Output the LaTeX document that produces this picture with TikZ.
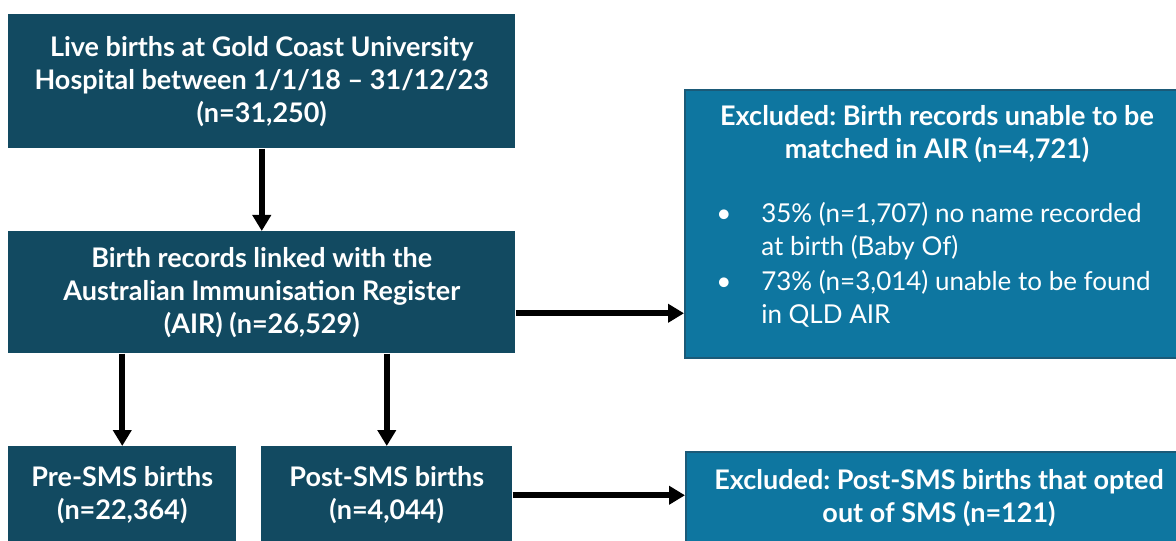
\documentclass[tikz,border=0pt]{standalone}
\usepackage{fontspec}
\setmainfont{Lato}
\usetikzlibrary{arrows.meta}
\newlength\pxu
\setlength\pxu{0.75pt}
\definecolor{darkfill}{HTML}{124A61}
\definecolor{lightfill}{HTML}{0E76A0}
\definecolor{lightedge}{HTML}{1B5A78}
\frenchspacing
\begin{document}
\begin{tikzpicture}[x=\pxu,y=-\pxu,
  txt/.style={font=\fontsize{20.25pt}{24.75pt}\selectfont\bfseries},
  rtxt/.style={font=\fontsize{19.5pt}{24.75pt}\selectfont},
  dbox/.style={txt, fill=darkfill, draw=none, text=white, align=center,
    inner sep=0pt, anchor=north west},
  lbox/.style={txt, fill=lightfill, draw=lightedge, line width=1.5pt,
    text=white, align=center, inner sep=0pt, anchor=north west},
  inner/.style={text=white, inner sep=0pt},
  arr/.style={line width=4.5pt, -{Triangle[length=12pt,width=13.5pt]}}]
\useasboundingbox (0,0) rectangle (1176,541);
\clip (0,0) rectangle (1176,541);
\node[dbox, minimum width=507\pxu, minimum height=134\pxu] (A) at (8,14)
  {Live births at Gold Coast University\\Hospital between 1/1/18 -- 31/12/23\\(n=31,250)};
\node[dbox, minimum width=507\pxu, minimum height=122\pxu] (B) at (8,231)
  {Birth records linked with the\\Australian Immunisation Register\\(AIR) (n=26,529)};
\node[dbox, minimum width=228\pxu, minimum height=98\pxu] (C) at (8,446)
  {Pre-SMS births\\(n=22,364)};
\node[dbox, minimum width=251\pxu, minimum height=98\pxu] (D) at (261,446)
  {Post-SMS births\\(n=4,044)};
\node[lbox, minimum width=506\pxu, minimum height=268\pxu] (E) at (684,89) {};
\node[inner, txt, align=center] (Eh) at (937,134)
  {Excluded: Birth records unable to be\\matched in AIR (n=4,721)};
\node[inner, rtxt, anchor=west] (El) at (716,266)
  {\begin{tabular}{@{}p{45\pxu}@{}l@{}}
   \textbullet & 35\% (n=1,707) no name recorded\\
   & at birth (Baby Of)\\[1.5pt]
   \textbullet & 73\% (n=3,014) unable to be found\\
   & in QLD AIR
   \end{tabular}};
\node[lbox, minimum width=506\pxu, minimum height=92\pxu] (F) at (685,451)
  {Excluded: Post-SMS births that opted\\out of SMS (n=121)};
\coordinate (b1) at ([yshift=-15.75pt]B.east);
\draw[arr] (A.south) -- (B.north);
\draw[arr] (C.north |- B.south) -- (C.north);
\draw[arr] (D.north |- B.south) -- (D.north);
\draw[arr] (b1) -- (b1 -| E.west);
\draw[arr] (D.east) -- (D.east -| F.west);
\end{tikzpicture}
\end{document}
